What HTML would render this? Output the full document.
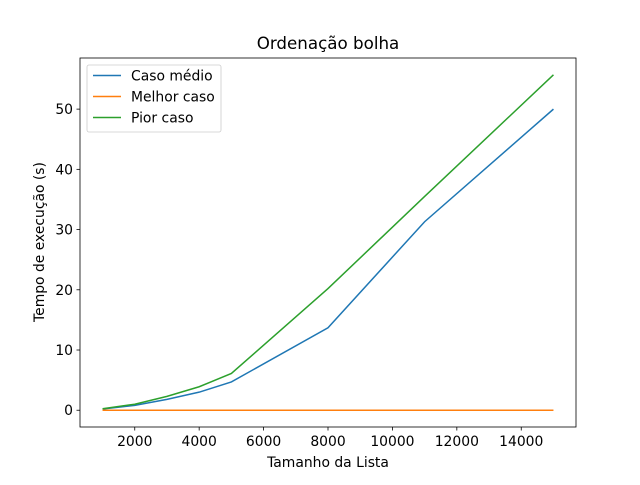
<!DOCTYPE html>
<html><head><meta charset="utf-8"><style>
body{margin:0;background:#fff}
svg{font-family:"DejaVu Sans","Liberation Sans",sans-serif}
</style></head><body>
<svg id="c" width="640" height="480" viewBox="0 0 640 480"></svg>
<script>
const sizes=[1000,2000,3000,4000,5000,8000,11000,15000];
const avgCase=[0.2,0.8,1.8,3.0,4.7,13.7,31.3,50.0];
const bestCase=[0,0,0,0,0,0,0,0];
const worstCase=[0.25,1.0,2.3,3.9,6.1,20.2,35.5,55.7];
const xTicks=[2000,4000,6000,8000,10000,12000,14000];
const yTicks=[0,10,20,30,40,50];
const seriesNames=["Caso médio","Melhor caso","Pior caso"];
const colors=["#1f77b4","#ff7f0e","#2ca02c"];
const L=80,R=576,T=58,B=427;
const xmin=300,xmax=15700,ymin=-2.785,ymax=58.49;
const X=v=>L+(v-xmin)/(xmax-xmin)*(R-L);
const Y=v=>B-(v-ymin)/(ymax-ymin)*(B-T);
const svg=document.getElementById('c');
const NS="http://www.w3.org/2000/svg";
function mk(t,a,p){const e=document.createElementNS(NS,t);for(const k in a)e.setAttribute(k,a[k]);(p||svg).appendChild(e);return e;}
const series=[avgCase,bestCase,worstCase];
series.forEach((s,i)=>{
const pl=mk('polyline',{points:sizes.map((x,j)=>X(x)+','+Y(s[j])).join(' '),fill:'none',stroke:colors[i],'stroke-width':1.5});


});
const fr=mk('rect',{x:L,y:T,width:R-L,height:B-T,fill:'none',stroke:'#000','stroke-width':0.8});


xTicks.forEach(v=>{
mk('line',{x1:X(v),x2:X(v),y1:B,y2:B+3.5,stroke:'#000','stroke-width':0.8});
const t=mk('text',{x:X(v),y:B+19,'text-anchor':'middle','font-size':13.9,fill:'#000'});t.textContent=v;


});
yTicks.forEach(v=>{
mk('line',{x1:L,x2:L-3.5,y1:Y(v),y2:Y(v),stroke:'#000','stroke-width':0.8});
const t=mk('text',{x:L-7,y:Y(v)+5,'text-anchor':'end','font-size':13.9,fill:'#000'});t.textContent=v;


});
let t=mk('text',{x:328,y:49,'text-anchor':'middle','font-size':16.7});t.textContent="Ordenação bolha";


t=mk('text',{x:328,y:467,'text-anchor':'middle','font-size':13.9});t.textContent="Tamanho da Lista";


t=mk('text',{x:0,y:0,'text-anchor':'middle','font-size':13.9,transform:'translate(44,242) rotate(-90)'});t.textContent="Tempo de execução (s)";


const lg=mk('rect',{x:87,y:65,width:134,height:67,rx:2,fill:'#fff',stroke:'#ccc','stroke-width':0.8});


seriesNames.forEach((n,i)=>{
const y=75.5+i*21;
mk('line',{x1:93,x2:121,y1:y,y2:y,stroke:colors[i],'stroke-width':1.5});
const tt=mk('text',{x:131,y:y+5,'font-size':13.9});tt.textContent=n;


});
</script>
</body></html>
